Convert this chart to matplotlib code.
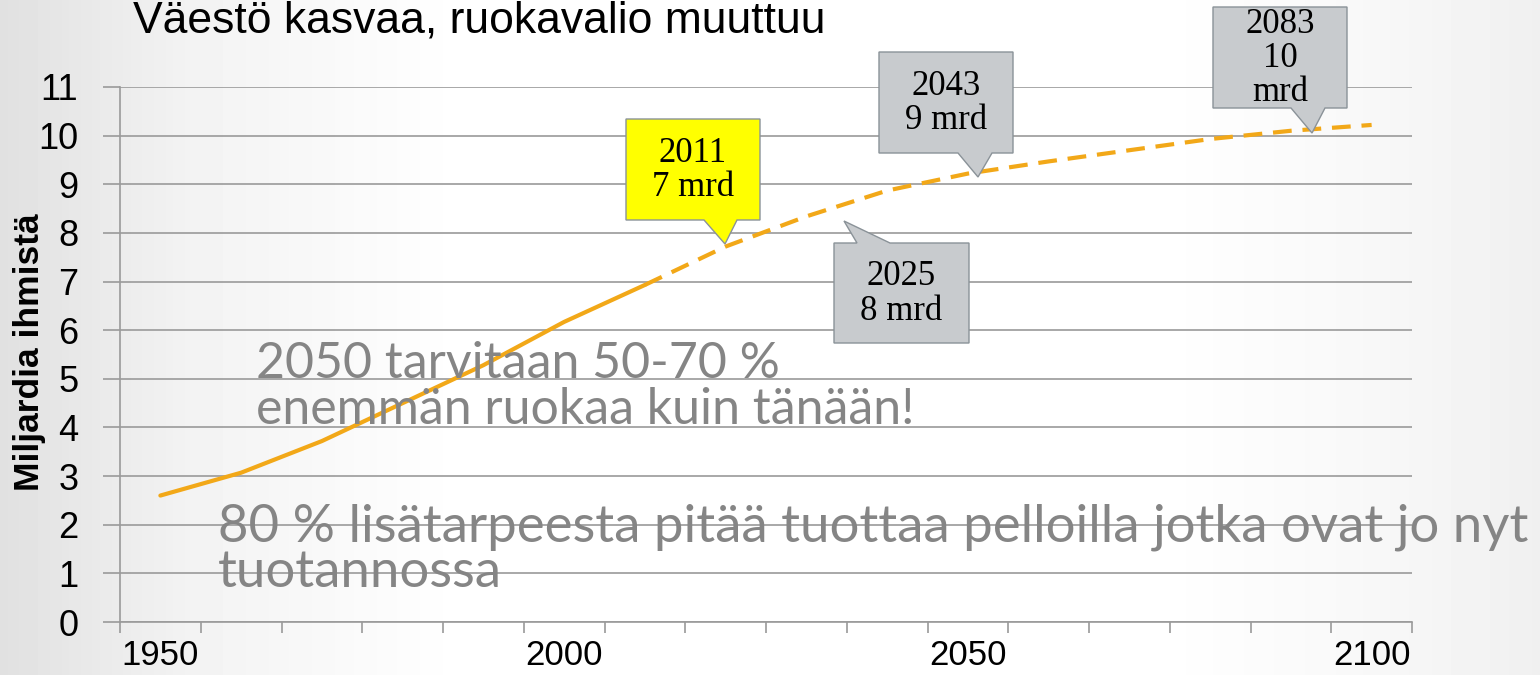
"""
Väestö kasvaa, ruokavalio muuttuu - population chart
"""

import numpy as np
import matplotlib
matplotlib.use('Agg')
import matplotlib.pyplot as plt
from matplotlib.patches import Polygon

# Data
years = [1950, 1960, 1970, 1980, 1990, 2000, 2010, 2020, 2030, 2040,
         2050, 2060, 2070, 2080, 2090, 2100]
population = [2.6, 3.07, 3.72, 4.5, 5.28, 6.17, 6.93, 7.72, 8.34, 8.87,
              9.22, 9.47, 9.7, 9.93, 10.1, 10.22]
solid_until = 2010
year_labels = [1950, 2000, 2050, 2100]
y_ticks = list(range(0, 12))

title = 'Väestö kasvaa, ruokavalio muuttuu'
ylabel = 'Miljardia ihmistä'
note1 = '2050 tarvitaan 50-70 %\nenemmän ruokaa kuin tänään!'
note2 = '80 % lisätarpeesta pitää tuottaa pelloilla jotka ovat jo nyt\ntuotannossa'

callout_texts = ['2011\n7 mrd', '2025\n8 mrd', '2043\n9 mrd', '2083\n10\nmrd']

W, H = 1540, 675
fig = plt.figure(figsize=(W / 100, H / 100), dpi=100)


def fp(x, y):
    # pixel position -> figure fraction
    return (x / W, 1 - y / H)


# Background gradient
bg = fig.add_axes([0, 0, 1, 1], zorder=-10)
xs = np.linspace(0, 1, 400)
shade = np.interp(xs, [0, 0.12, 0.3, 0.75, 0.9, 1.0],
                  [0.88, 0.95, 1.0, 1.0, 0.97, 0.94])
bg.imshow(np.tile(shade, (10, 1)), cmap='gray', vmin=0, vmax=1,
          aspect='auto', extent=[0, 1, 0, 1])
bg.axis('off')

ax = fig.add_axes([120 / W, 1 - 622 / H, (1412 - 120) / W, (622 - 87) / H])
ax.patch.set_alpha(0)

orange = '#F2A818'
solid_x = [y for y in years if y <= solid_until]
solid_y = population[:len(solid_x)]
dash_x = years[len(solid_x) - 1:]
dash_y = population[len(solid_x) - 1:]
ax.plot(solid_x, solid_y, color=orange, lw=3, solid_capstyle='round', zorder=3)
ax.plot(dash_x, dash_y, color=orange, lw=3, dashes=(4.5, 2.6), zorder=3)

ax.set_xlim(1945, 2105)
ax.set_ylim(0, 11)
ax.set_yticks(y_ticks)
ax.set_xticks(np.arange(1945, 2106, 10))
ax.set_xticklabels([])
ax.set_xticks(year_labels, minor=True)
ax.set_xticklabels([str(y) for y in year_labels], minor=True)
ax.grid(axis='y', color='#9a9a9a', lw=1.2)
ax.set_axisbelow(True)

for side in ['top', 'right']:
    ax.spines[side].set_visible(False)
for side in ['left', 'bottom']:
    ax.spines[side].set_color('#9a9a9a')
    ax.spines[side].set_linewidth(1.2)

ax.tick_params(axis='y', which='major', length=12, width=1.2, color='#9a9a9a',
               pad=18, labelsize=26, labelcolor='black')
ax.tick_params(axis='x', which='major', length=8, width=1.2, color='#9a9a9a')
ax.tick_params(axis='x', which='minor', length=0, pad=12, labelsize=25)
for lab in ax.get_yticklabels() + ax.get_xticklabels(minor=True):
    lab.set_family('Liberation Sans')

fig.text(*fp(30, 352), ylabel, rotation=90, ha='center', va='center',
         fontsize=25.5, fontweight='bold', family='Liberation Sans')

fig.text(*fp(133, 32), title, ha='left', va='baseline', fontsize=32,
         family='Liberation Sans', color='black')

fig.text(*fp(256, 424), note1, ha='left', va='baseline', fontsize=36,
         family='Lato', color='#858585', linespacing=1.0, zorder=5)
fig.text(*fp(218, 587), note2, ha='left', va='baseline', fontsize=38,
         family='Lato', color='#858585', linespacing=0.95, zorder=5)

# Callout boxes (pixel layout): box left, top, right, bottom, tail base, tip
callouts = [
    (626, 119, 760, 220, (704, 737), (725, 244), '#FFFF00'),
    (834, 243, 969, 343, (857, 890), (844, 221), '#C8CBCE'),
    (879, 52, 1013, 153, (958, 992), (978, 177), '#C8CBCE'),
    (1213, 7, 1347, 108, (1291, 1325), (1312, 133), '#C8CBCE'),
]
for (l, t, r, b, base, tip, fc), txt in zip(callouts, callout_texts):
    if tip[1] > b:
        pts = [(l, t), (r, t), (r, b), (base[1], b), tip, (base[0], b), (l, b)]
    else:
        pts = [(l, t), (base[0], t), tip, (base[1], t), (r, t), (r, b), (l, b)]
    poly = Polygon([fp(*p) for p in pts], closed=True, transform=fig.transFigure,
                   facecolor=fc, edgecolor='#8a9298', lw=1, zorder=6)
    fig.add_artist(poly)
    fig.text(*fp((l + r) / 2, (t + b) / 2 + 1), txt, ha='center', va='center',
             fontsize=25, family='Liberation Serif', color='black',
             linespacing=1.05, zorder=7)

fig.savefig('out.png', dpi=100)
